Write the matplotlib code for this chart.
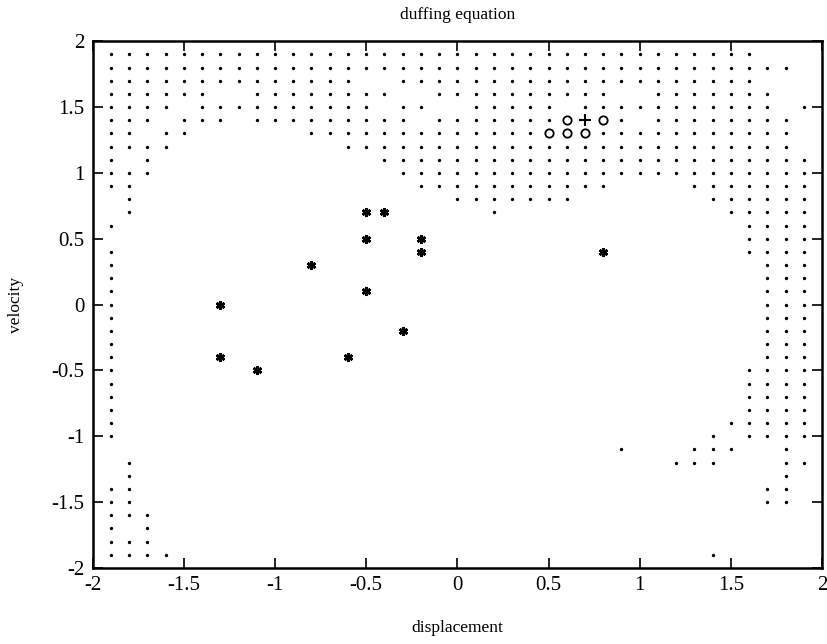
import numpy as np
import matplotlib
matplotlib.use("Agg")
import matplotlib.pyplot as plt

plt.rcParams['font.family'] = ['Liberation Serif', 'DejaVu Serif']
plt.rcParams['axes.unicode_minus'] = False

# grid dots, one entry per velocity row: runs of displacement (start, stop), step 0.1
row_y = [1.9, 1.8, 1.7, 1.6, 1.5, 1.4, 1.3, 1.2, 1.1, 1.0, 0.9, 0.8, 0.7, 0.6, 0.5,
         0.4, 0.3, 0.2, 0.1, 0.0, -0.1, -0.2, -0.3, -0.4, -0.5, -0.6, -0.7, -0.8,
         -0.9, -1.0, -1.1, -1.2, -1.3, -1.4, -1.5, -1.6, -1.7, -1.8, -1.9]
row_runs = [
    [(-1.9, 1.6)],
    [(-1.9, 1.8)],
    [(-1.9, -0.6), (-0.3, 1.6)],
    [(-1.9, -1.4), (-1.1, -0.4), (-0.1, 0.8), (1.1, 1.7)],
    [(-1.9, -1.6), (-1.4, -0.5), (-0.3, -0.2), (0.1, 0.5), (0.7, 1.7), (1.9, 1.9)],
    [(-1.9, -1.7), (-1.5, -1.3), (-1.1, -0.3), (-0.1, 0.5), (0.9, 0.9), (1.1, 1.8)],
    [(-1.9, -1.8), (-1.6, -1.5), (-0.8, 0.4), (0.8, 1.8)],
    [(-1.9, -1.6), (-0.6, 1.8)],
    [(-1.9, -1.9), (-1.7, -1.7), (-0.4, 1.9)],
    [(-1.9, -1.7), (-0.3, 1.9)],
    [(-1.9, -1.8), (-0.2, 0.8), (1.3, 1.9)],
    [(-1.8, -1.8), (0.0, 0.6), (1.4, 1.9)],
    [(-1.8, -1.8), (0.2, 0.2), (1.5, 1.9)],
    [(-1.9, -1.9), (1.6, 1.9)],
    [(1.6, 1.9)],
    [(-1.9, -1.9), (1.6, 1.9)],
    [(-1.9, -1.9), (1.7, 1.9)],
    [(-1.9, -1.9), (1.7, 1.9)],
    [(-1.9, -1.9), (1.7, 1.9)],
    [(-1.9, -1.9), (1.7, 1.9)],
    [(-1.9, -1.9), (1.7, 1.9)],
    [(-1.9, -1.9), (1.7, 1.9)],
    [(-1.9, -1.9), (1.7, 1.9)],
    [(-1.9, -1.9), (1.7, 1.9)],
    [(-1.9, -1.9), (1.6, 1.9)],
    [(-1.9, -1.9), (1.6, 1.9)],
    [(-1.9, -1.9), (1.6, 1.9)],
    [(-1.9, -1.9), (1.6, 1.9)],
    [(-1.9, -1.9), (1.5, 1.9)],
    [(-1.9, -1.9), (1.4, 1.4), (1.6, 1.9)],
    [(0.9, 0.9), (1.3, 1.5), (1.8, 1.8)],
    [(-1.8, -1.8), (1.2, 1.4), (1.8, 1.9)],
    [(-1.8, -1.8), (1.8, 1.8)],
    [(-1.9, -1.8), (1.7, 1.8)],
    [(-1.9, -1.8), (1.7, 1.8)],
    [(-1.9, -1.7)],
    [(-1.9, -1.9), (-1.7, -1.7)],
    [(-1.9, -1.7)],
    [(-1.9, -1.6), (1.4, 1.4)],
]

# asterisk points
star_x = [-1.3, -1.3, -1.1, -0.8, -0.6, -0.5, -0.4, -0.5, -0.5, -0.3, -0.2, -0.2, 0.8]
star_y = [0.0, -0.4, -0.5, 0.3, -0.4, 0.7, 0.7, 0.5, 0.1, -0.2, 0.5, 0.4, 0.4]

# open circles and the plus
circle_x = [0.6, 0.8, 0.5, 0.6, 0.7]
circle_y = [1.4, 1.4, 1.3, 1.3, 1.3]
plus_x = [0.7]
plus_y = [1.4]

ticks = [-2, -1.5, -1, -0.5, 0, 0.5, 1, 1.5, 2]
tick_labels = ['-2', '-1.5', '-1', '-0.5', '0', '0.5', '1', '1.5', '2']

dots_x, dots_y = [], []
for y, runs in zip(row_y, row_runs):
    for a, b in runs:
        n = int(round((b - a) / 0.1)) + 1
        for k in range(n):
            dots_x.append(round(a + 0.1 * k, 2))
            dots_y.append(y)

fig = plt.figure(figsize=(8.27, 6.44), dpi=100)
ax = fig.add_axes([0.112, 0.118, 0.882, 0.818])

ax.plot(dots_x, dots_y, linestyle='none', marker='o', markersize=1.4, color='black')
ax.plot(star_x, star_y, linestyle='none', marker=(6, 2, 0), markersize=6.5,
        markeredgewidth=1.9, color='black')
ax.plot(circle_x, circle_y, linestyle='none', marker='o', markersize=6,
        markerfacecolor='none', markeredgecolor='black', markeredgewidth=1.3)
ax.plot(plus_x, plus_y, linestyle='none', marker='+', markersize=8,
        markeredgewidth=1.5, color='black')

ax.set_xlim(-2, 2)
ax.set_ylim(-2, 2)
ax.set_xticks(ticks)
ax.set_xticklabels(tick_labels)
ax.set_yticks(ticks)
ax.set_yticklabels(tick_labels)
ax.tick_params(direction='in', length=7, width=1.2, top=True, right=True,
               labelsize=15, pad=6)
for s in ax.spines.values():
    s.set_linewidth(1.8)

ax.set_title('duffing equation', fontsize=12.5, pad=16)
ax.set_xlabel('displacement', fontsize=12.5, labelpad=18)
ax.set_ylabel('velocity', fontsize=12.5, labelpad=20)

fig.savefig('out.png', dpi=100)
